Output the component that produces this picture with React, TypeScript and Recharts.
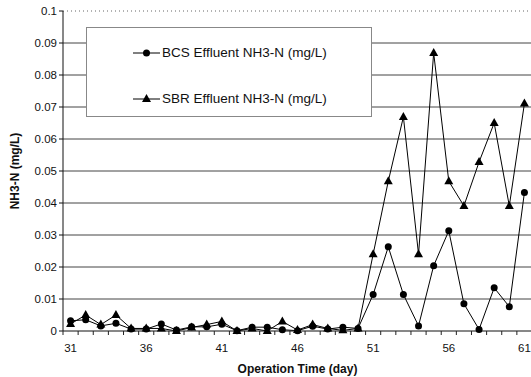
import { LineChart, Line, XAxis, YAxis, CartesianGrid, ReferenceLine, Label } from 'recharts'

const days = [31, 32, 33, 34, 35, 36, 37, 38, 39, 40, 41, 42, 43, 44, 45, 46, 47, 48, 49, 50, 51, 52, 53, 54, 55, 56, 57, 58, 59, 60, 61]

const bcsNH3 = [0.0032, 0.0035, 0.0016, 0.0024, 0.0006, 0.0006, 0.0022, 0.0003, 0.0013, 0.0013, 0.0021, 0.0001, 0.0012, 0.0012, 0.0004, 0.0001, 0.0015, 0.0006, 0.0012, 0.0008, 0.0114, 0.0263, 0.0114, 0.0016, 0.0204, 0.0313, 0.0085, 0.0005, 0.0135, 0.0076, 0.0433]

const sbrNH3 = [0.0022, 0.005, 0.002, 0.005, 0.0008, 0.0008, 0.0008, 0.0, 0.0011, 0.002, 0.003, 0.0, 0.0008, 0.0, 0.003, 0.0003, 0.002, 0.0008, 0.0002, 0.0008, 0.024, 0.0468, 0.0669, 0.024, 0.0869, 0.0468, 0.0391, 0.0528, 0.065, 0.0391, 0.0711]

const dayLabels = [31, 36, 41, 46, 51, 56, 61]
const yTicks = [0, 0.01, 0.02, 0.03, 0.04, 0.05, 0.06, 0.07, 0.08, 0.09, 0.1]

const BCS_NAME = 'BCS Effluent NH3-N (mg/L)'
const SBR_NAME = 'SBR Effluent NH3-N (mg/L)'

const data = days.map((day, i) => ({ day, bcs: bcsNH3[i], sbr: sbrNH3[i] }))

// category boundaries get the small tick marks, label days get the text
const boundaries = [...days.map((d) => d - 0.5), days[days.length - 1] + 0.5]
const xTicks = [...boundaries, ...dayLabels].sort((a, b) => a - b)

const FONT = 'Arial, "Liberation Sans", Helvetica, sans-serif'

function XTick(props: any) {
  const { x, y, payload } = props
  const v = payload.value
  if (dayLabels.includes(v)) {
    return (
      <text x={x} y={y + 13} textAnchor="middle" fontSize={11.5} fontFamily={FONT} fill="#111">
        {v}
      </text>
    )
  }
  return <line x1={x} x2={x} y1={y - 8} y2={y - 4} stroke="#222" strokeWidth={1} />
}

function Triangle(props: any) {
  const { cx, cy } = props
  if (cx == null || cy == null) return null
  return <polygon points={`${cx},${cy - 5} ${cx - 4.5},${cy + 3} ${cx + 4.5},${cy + 3}`} fill="#000" />
}

function Dot(props: any) {
  const { cx, cy } = props
  if (cx == null || cy == null) return null
  return <circle cx={cx} cy={cy} r={3.5} fill="#000" />
}

function LegendBox() {
  return (
    <div
      style={{
        position: 'absolute',
        left: 86,
        top: 27,
        width: 286,
        height: 90,
        background: '#fff',
        border: '1px solid #888',
        boxSizing: 'border-box',
        fontFamily: FONT,
        fontSize: 13.5,
        color: '#111',
      }}
    >
      {[
        { name: BCS_NAME, shape: 'dot', top: 17 },
        { name: SBR_NAME, shape: 'tri', top: 63 },
      ].map((item) => (
        <div key={item.name} style={{ position: 'absolute', left: 46, top: item.top, display: 'flex', alignItems: 'center', lineHeight: '16px' }}>
          <svg width={27} height={12} style={{ marginRight: 2 }}>
            <line x1={0} x2={27} y1={6} y2={6} stroke="#000" strokeWidth={1} />
            {item.shape === 'dot' ? (
              <circle cx={13.5} cy={6} r={3.5} fill="#000" />
            ) : (
              <polygon points="13.5,1 9,9 18,9" fill="#000" />
            )}
          </svg>
          <span>{item.name}</span>
        </div>
      ))}
    </div>
  )
}

export default function App() {
  return (
    <div style={{ position: 'absolute', left: 0, top: 0, width: 531, height: 377, overflow: 'hidden', background: '#fff' }}>
      <LineChart width={532} height={377} data={data} margin={{ top: 11, right: 0, bottom: 0, left: 0 }}>
        <CartesianGrid horizontal vertical={false} horizontalValues={yTicks.slice(1, 10)} stroke="#444" strokeWidth={1} />
        <ReferenceLine y={0.1} stroke="#666" strokeDasharray="1 3" />
        <XAxis
          dataKey="day"
          type="number"
          domain={[30.5, 61.5]}
          ticks={xTicks}
          interval={0}
          tick={<XTick />}
          tickLine={false}
          axisLine={{ stroke: '#111' }}
          height={46}
        >
          <Label
            content={({ viewBox }: any) => (
              <text
                x={viewBox.x + viewBox.width / 2}
                y={viewBox.y + 42}
                textAnchor="middle"
                fontSize={12}
                fontWeight="bold"
                fontFamily={FONT}
                fill="#111"
              >
                Operation Time (day)
              </text>
            )}
          />
        </XAxis>
        <YAxis
          type="number"
          domain={[0, 0.1]}
          ticks={yTicks}
          interval={0}
          width={63}
          tickSize={4}
          tickLine={{ stroke: '#111' }}
          axisLine={{ stroke: '#111' }}
          tick={{ fontSize: 11.5, fontFamily: FONT, fill: '#111' }}
          tickFormatter={(v: number) => String(v)}
        >
          <Label
            content={({ viewBox }: any) => {
              const cx = viewBox.x + 15
              const cy = viewBox.y + viewBox.height / 2
              return (
                <text
                  x={cx}
                  y={cy}
                  transform={`rotate(-90 ${cx} ${cy})`}
                  textAnchor="middle"
                  dominantBaseline="central"
                  fontSize={12}
                  fontWeight="bold"
                  fontFamily={FONT}
                  fill="#111"
                >
                  NH3-N (mg/L)
                </text>
              )
            }}
          />
        </YAxis>
        <Line name={BCS_NAME} dataKey="bcs" stroke="#000" strokeWidth={1} dot={<Dot />} isAnimationActive={false} />
        <Line name={SBR_NAME} dataKey="sbr" stroke="#000" strokeWidth={1} dot={<Triangle />} isAnimationActive={false} />
      </LineChart>
      <LegendBox />
    </div>
  )
}
